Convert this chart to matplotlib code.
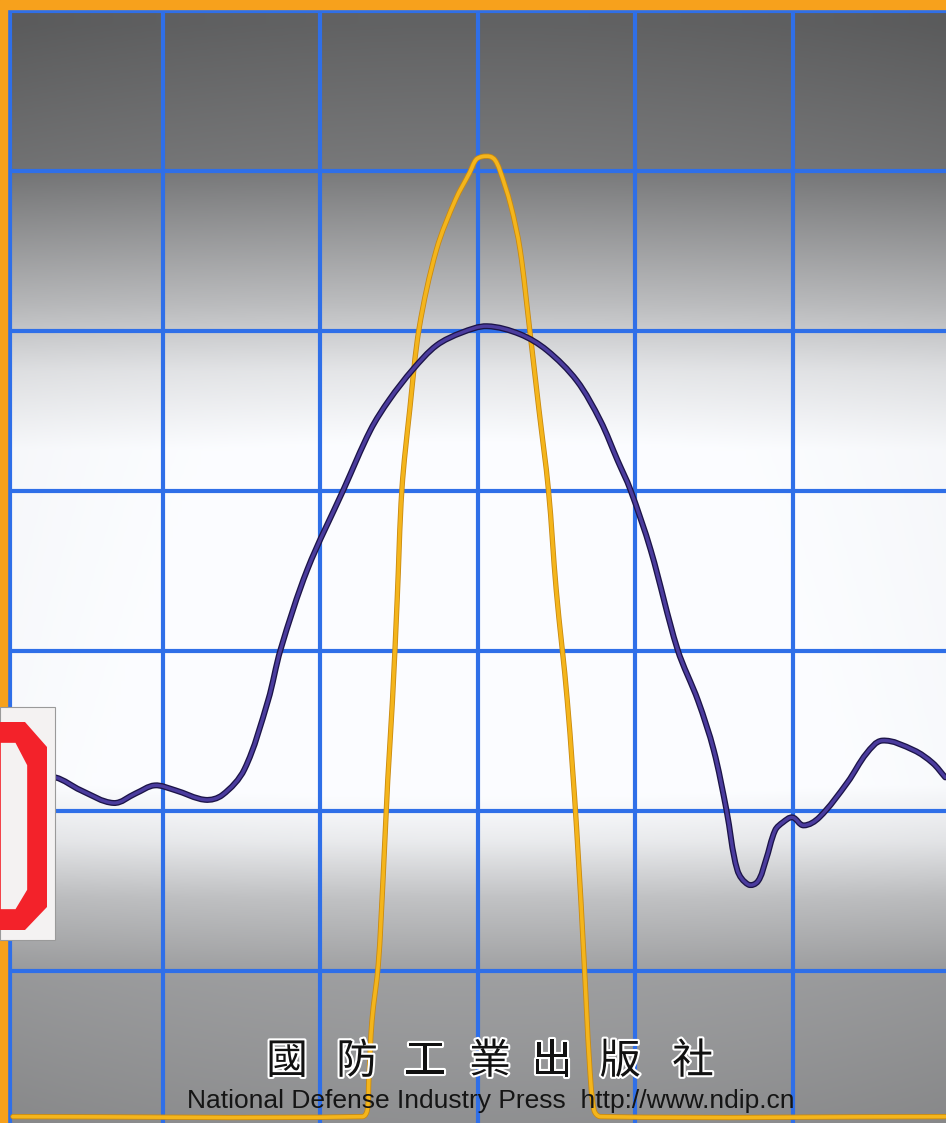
import numpy as np
import matplotlib
matplotlib.use("Agg")
import matplotlib.pyplot as plt
import matplotlib.patheffects as pe
from matplotlib.patches import Polygon, Rectangle, PathPatch
from matplotlib.path import Path

# values in grid divisions (x: horizontal divisions, y: vertical divisions)
yellow_x = [0.05, 2.27, 2.30, 2.31, 2.33, 2.37, 2.40, 2.43, 2.46, 2.49, 2.52, 2.57,
            2.63, 2.74, 2.86, 2.95, 2.99, 3.03, 3.08, 3.11, 3.14, 3.21, 3.27, 3.33,
            3.39, 3.45, 3.50, 3.57, 3.63, 3.68, 3.71, 3.74, 3.78, 5.97]
yellow_y = [0.09, 0.09, 0.13, 0.32, 0.69, 1.04, 1.57, 2.19, 2.69, 3.32, 4.01, 4.51,
            5.02, 5.51, 5.82, 5.99, 6.07, 6.09, 6.09, 6.07, 6.01, 5.79, 5.51, 5.02,
            4.51, 4.01, 3.38, 2.69, 1.88, 1.00, 0.44, 0.13, 0.09, 0.09]

blue_x = [0.03, 0.32, 0.48, 0.69, 0.83, 0.95, 1.08, 1.27, 1.38, 1.52, 1.67, 1.75,
          1.92, 2.15, 2.32, 2.44, 2.59, 2.74, 2.90, 3.06, 3.27, 3.44, 3.63, 3.78,
          3.89, 3.97, 4.10, 4.27, 4.40, 4.50, 4.58, 4.65, 4.72, 4.78, 4.83, 4.89,
          4.94, 5.00, 5.07, 5.17, 5.35, 5.47, 5.57, 5.77, 5.89, 5.97]
blue_y = [2.24, 2.21, 2.13, 2.05, 2.11, 2.16, 2.13, 2.07, 2.10, 2.26, 2.69, 3.01,
          3.51, 4.01, 4.38, 4.57, 4.76, 4.91, 4.99, 5.03, 4.98, 4.88, 4.69, 4.44,
          4.19, 4.01, 3.63, 3.01, 2.69, 2.38, 2.01, 1.63, 1.54, 1.56, 1.69, 1.88,
          1.93, 1.96, 1.91, 1.96, 2.18, 2.36, 2.44, 2.38, 2.30, 2.21]

grid_x = [0.03, 1, 2, 3, 4, 5]
grid_y = [1, 2, 3, 4, 5, 6, 7]

title_cn = "國防工業出版社"
title_en = "National Defense Industry Press  http://www.ndip.cn"


def smooth_path(xs, ys):
    # bezier curve through the read points (tangents limited to avoid overshoot)
    p = np.column_stack([xs, ys]).astype(float)
    n = len(p)
    verts = [p[0]]
    codes = [Path.MOVETO]
    for i in range(n - 1):
        a, b = p[i], p[i + 1]
        seg = np.hypot(*(b - a))
        t0 = p[i + 1] - p[i - 1] if i > 0 else b - a
        t1 = p[i + 2] - p[i] if i + 2 < n else b - a
        t0 = t0 / (np.hypot(*t0) or 1)
        t1 = t1 / (np.hypot(*t1) or 1)
        verts += [a + t0 * seg / 3, b - t1 * seg / 3, b]
        codes += [Path.CURVE4] * 3
    return Path(verts, codes)


W, H = 946, 1123
fig = plt.figure(figsize=(W / 100, H / 100), dpi=100)
ax = fig.add_axes([0, 0, 1, 1])
x0, x1 = -5 / 157.5, (W - 5) / 157.5
y0, y1 = (1131 - H) / 160, 1131 / 160
ax.set_xlim(x0, x1)
ax.set_ylim(y0, y1)
ax.axis("off")

# grey - white - grey background
stops = [0.0, 0.02, 0.15, 0.27, 0.33, 0.40, 0.70, 0.75, 0.80, 0.87, 1.0]
vals = [0.36, 0.36, 0.45, 0.72, 0.88, 0.98, 0.99, 0.90, 0.74, 0.60, 0.54]
t = np.linspace(0, 1, 400)
col = np.interp(t, stops, vals)
xx = np.linspace(-1, 1, 200)
img = col[:, None] + 0.03 * (1 - xx[None, :] ** 2)
img = np.clip(img, 0, 1)
rgb = np.dstack([img * 0.985, img * 0.99, img * 1.0])
ax.imshow(rgb, extent=[x0, x1, y0, y1], aspect="auto", origin="upper", zorder=0)

for gx in grid_x:
    ax.axvline(gx, color="#2f6fe8", lw=3.0, zorder=1)
for gy in grid_y:
    ax.axhline(gy, color="#2f6fe8", lw=3.0, zorder=1)

ax.add_patch(PathPatch(smooth_path(yellow_x, yellow_y), fill=False,
                       edgecolor="#f4b51c", lw=2.6, zorder=3, joinstyle="round",
                       capstyle="round",
                       path_effects=[pe.Stroke(linewidth=3.8, foreground="#c98a10"),
                                     pe.Normal()]))
ax.add_patch(PathPatch(smooth_path(blue_x, blue_y), fill=False,
                       edgecolor="#4b3c9e", lw=2.4, zorder=4, joinstyle="round",
                       capstyle="round",
                       path_effects=[pe.Stroke(linewidth=4.3, foreground="#1c1448"),
                                     pe.Normal()]))

# orange frame
fig.patches.append(Rectangle((0, 1 - 9 / H), 1, 9 / H, transform=fig.transFigure,
                             color="#f7a11c", zorder=5))
fig.patches.append(Rectangle((0, 0), 7 / W, 1, transform=fig.transFigure,
                             color="#f7a11c", zorder=5))


# library sticker on the left
def px(pts):
    return [(a / W, 1 - b / H) for a, b in pts]


fig.patches.append(Polygon(px([(0, 707), (55, 707), (55, 940), (0, 940)]),
                           transform=fig.transFigure, facecolor="#f4f2f2",
                           edgecolor="#9a9a9a", lw=0.8, zorder=6))
fig.patches.append(Polygon(px([(0, 722), (25, 722), (47, 747), (47, 907), (25, 930), (0, 930)]),
                           transform=fig.transFigure, facecolor="#f3222a",
                           edgecolor="none", zorder=7))
fig.patches.append(Polygon(px([(0, 742), (16, 742), (28, 765), (28, 890), (16, 910), (0, 910)]),
                           transform=fig.transFigure, facecolor="#f4f2f2",
                           edgecolor="#f3222a", lw=1.2, zorder=8))

# publisher
cn_x = [287, 357, 425, 490, 552, 620, 693]
for ch, cx in zip(title_cn, cn_x):
    fig.text(cx / W, 1 - 1062 / H, ch, ha="center", va="center", fontsize=30,
             family=["Noto Sans CJK TC", "DejaVu Sans"], color="#111111", zorder=9,
             path_effects=[pe.withStroke(linewidth=3, foreground="white")])
fig.text(187 / W, 1 - 1101 / H, title_en, ha="left", va="center", fontsize=19,
         family="Liberation Sans", color="#151515", zorder=9)

fig.savefig("out.png", dpi=100)
